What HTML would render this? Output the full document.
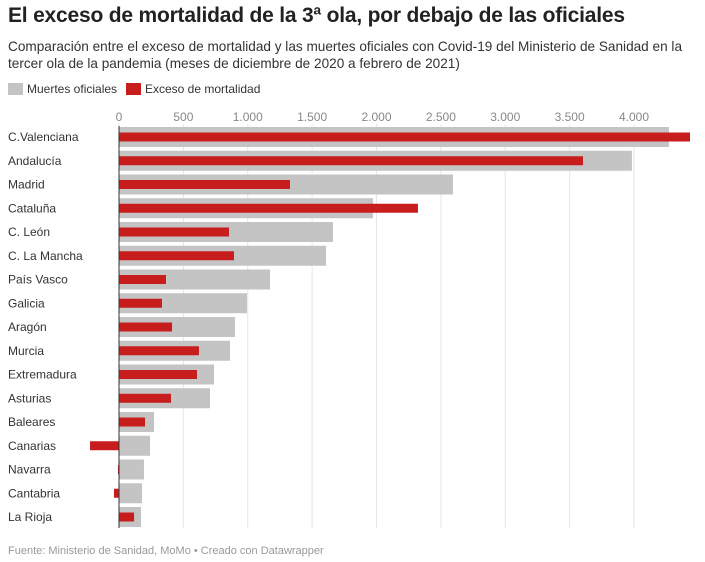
<!DOCTYPE html>
<html><head><meta charset="utf-8"><style>
body{margin:0;width:705px;height:562px;background:#fff;font-family:"Liberation Sans",sans-serif;overflow:hidden;position:relative}
.t{position:absolute;left:8px;top:4px;font-size:21px;font-weight:bold;color:#222;letter-spacing:-0.2px}
.s{position:absolute;left:8px;top:38px;font-size:13.6px;line-height:17px;color:#333;width:700px}
.lg{position:absolute;top:82px;font-size:12px;color:#333;display:flex;align-items:center}
.sw{width:15px;height:12px;margin-right:4px}
.f{position:absolute;left:8px;top:545px;font-size:11px;color:#999}
</style></head><body>
<div class="t">El exceso de mortalidad de la 3ª ola, por debajo de las oficiales</div>
<div class="s">Comparación entre el exceso de mortalidad y las muertes oficiales con Covid-19 del Ministerio de Sanidad en la tercer ola de la pandemia (meses de diciembre de 2020 a febrero de 2021)</div>
<div class="lg" style="left:8px"><div class="sw" style="background:#c4c4c4"></div>Muertes oficiales</div>
<div class="lg" style="left:126px"><div class="sw" style="background:#c71e1d"></div>Exceso de mortalidad</div>
<svg id="c" width="705" height="562" style="position:absolute;left:0;top:0"></svg>
<div class="f">Fuente: Ministerio de Sanidad, MoMo • Creado con Datawrapper</div>
<script>
const categories=["C.Valenciana","Andalucía","Madrid","Cataluña","C. León","C. La Mancha","País Vasco","Galicia","Aragón","Murcia","Extremadura","Asturias","Baleares","Canarias","Navarra","Cantabria","La Rioja"];
const oficiales=[4272,3984,2594,1973,1662,1608,1173,994,901,862,738,707,272,241,194,179,171];
const exceso=[4435,3604,1328,2322,854,893,365,334,412,621,606,404,202,-225,-8,-39,117];
const ticks=[0,500,1000,1500,2000,2500,3000,3500,4000];
const tickLabels=["0","500","1.000","1.500","2.000","2.500","3.000","3.500","4.000"];
const svg=document.getElementById('c');const NS='http://www.w3.org/2000/svg';
const x=v=>119+v*0.12875;const y=i=>137+i*23.75;
function mk(t,a){const e=document.createElementNS(NS,t);for(const k in a)e.setAttribute(k,a[k]);svg.appendChild(e);return e;}
ticks.forEach((t,i)=>{
const g=mk('line',{x1:x(t),x2:x(t),y1:124,y2:528,stroke:'#e6e6e6','stroke-width':1});


const l=mk('text',{x:x(t),y:121,'text-anchor':'middle','font-size':12,fill:'#888'});l.textContent=tickLabels[i];


});
categories.forEach((c,i)=>{
const l=mk('text',{x:8,y:y(i)+4,'font-size':12,fill:'#333'});l.textContent=c;


const g=mk('rect',{x:x(Math.min(0,oficiales[i])),y:y(i)-10,width:Math.abs(x(oficiales[i])-x(0)),height:20,fill:'#c4c4c4'});


const r=mk('rect',{x:x(Math.min(0,exceso[i])),y:y(i)-4.5,width:Math.abs(x(exceso[i])-x(0)),height:9,fill:'#c71e1d'});


});
const a=mk('line',{x1:x(0),x2:x(0),y1:126,y2:528,stroke:'#333','stroke-width':1});


</script>
</body></html>
